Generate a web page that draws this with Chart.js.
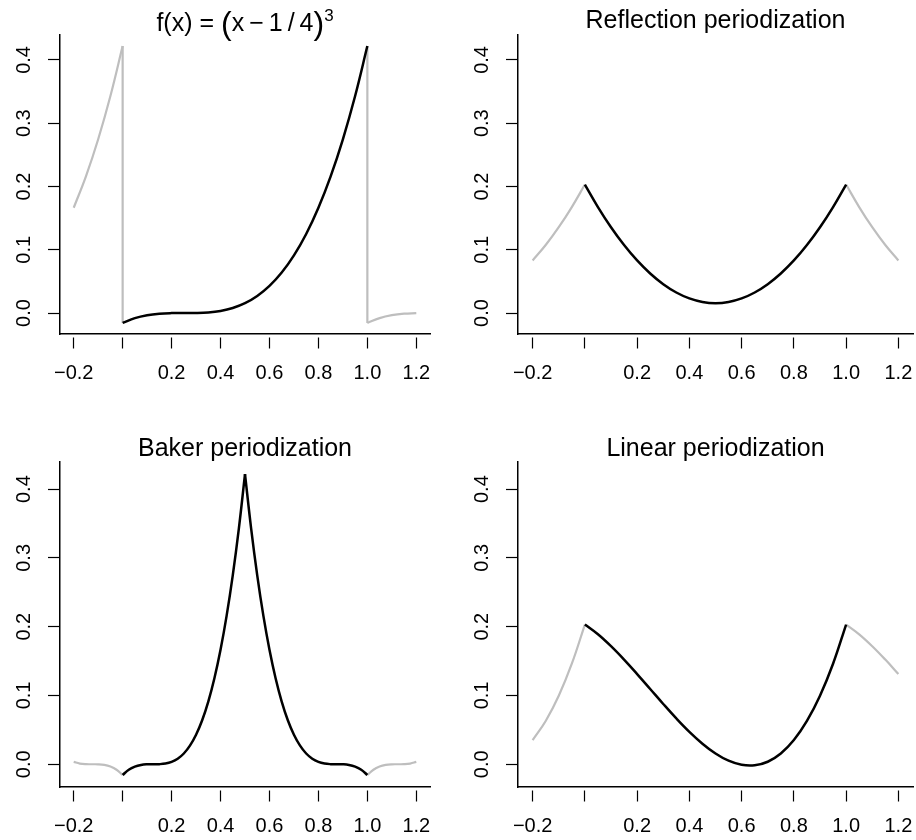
<!DOCTYPE html>
<html>
<head>
<meta charset="utf-8">
<title>Periodization of (x - 1/4)^3</title>
<script src="https://cdn.jsdelivr.net/npm/chart.js@4.4.1/dist/chart.umd.min.js"></script>
<style>
  html, body { margin: 0; padding: 0; background: #fff; }
  #wrap { position: relative; width: 916px; height: 840px; }
  .panel { position: absolute; }
</style>
</head>
<body>
<div id="wrap">
  <canvas class="panel" id="cube" width="458" height="420" style="left:0;top:0"></canvas>
  <canvas class="panel" id="reflect" width="458" height="420" style="left:458px;top:0"></canvas>
  <canvas class="panel" id="baker" width="458" height="420" style="left:0;top:420px"></canvas>
  <canvas class="panel" id="linear" width="458" height="420" style="left:458px;top:420px"></canvas>
</div>
<script>
// axis ticks (0 gets a tick mark but no label)
const xTicks = [-0.2, 0, 0.2, 0.4, 0.6, 0.8, 1.0, 1.2];
const xTickLabels = ['\u22120.2', '', '0.2', '0.4', '0.6', '0.8', '1.0', '1.2'];
const yTicks = [0, 0.1, 0.2, 0.3, 0.4];
const yTickLabels = ['0.0', '0.1', '0.2', '0.3', '0.4'];

// x grids
const xUnit = [0, 0.05, 0.1, 0.15, 0.2, 0.25, 0.3, 0.35, 0.4, 0.45, 0.5,
               0.55, 0.6, 0.65, 0.7, 0.75, 0.8, 0.85, 0.9, 0.95, 1];
const xLeft = [-0.2, -0.15, -0.1, -0.05, 0];
const xRight = [1, 1.05, 1.1, 1.15, 1.2];
const xJump0 = [0, 0];
const xJump1 = [1, 1];

// f(x) = (x - 1/4)^3 and its plain periodic copy
const cubeY = [-0.0156, -0.008, -0.0034, -0.001, -0.0001, 0, 0.0001, 0.001, 0.0034, 0.008, 0.0156,
               0.027, 0.0429, 0.064, 0.0911, 0.125, 0.1664, 0.216, 0.2746, 0.343, 0.4219];
const cubeLeftY = [0.1664, 0.216, 0.2746, 0.343, 0.4219];
const cubeRightY = [-0.0156, -0.008, -0.0034, -0.001, -0.0001];
const cubeJumpY = [0.4219, -0.0156];

// reflection periodization
const reflY = [0.2031, 0.1675, 0.1356, 0.1075, 0.0831, 0.0625, 0.0456, 0.0325, 0.0231, 0.0175, 0.0156,
               0.0175, 0.0231, 0.0325, 0.0456, 0.0625, 0.0831, 0.1075, 0.1356, 0.1675, 0.2031];
const reflLeftY = [0.0831, 0.1075, 0.1356, 0.1675, 0.2031];
const reflRightY = [0.2031, 0.1675, 0.1356, 0.1075, 0.0831];

// baker periodization, finer grid because of the peak at 0.5
const xBakerUp = [0, 0.025, 0.05, 0.075, 0.1, 0.125, 0.15, 0.175, 0.2, 0.225, 0.25,
                  0.275, 0.3, 0.325, 0.35, 0.375, 0.4, 0.425, 0.45, 0.475, 0.5];
const xBakerDown = [0.5, 0.525, 0.55, 0.575, 0.6, 0.625, 0.65, 0.675, 0.7, 0.725, 0.75,
                    0.775, 0.8, 0.825, 0.85, 0.875, 0.9, 0.925, 0.95, 0.975, 1];
const bakerUpY = [-0.0156, -0.008, -0.0034, -0.001, -0.0001, 0, 0.0001, 0.001, 0.0034, 0.008, 0.0156,
                  0.027, 0.0429, 0.064, 0.0911, 0.125, 0.1664, 0.216, 0.2746, 0.343, 0.4219];
const bakerDownY = [0.4219, 0.343, 0.2746, 0.216, 0.1664, 0.125, 0.0911, 0.064, 0.0429, 0.027, 0.0156,
                    0.008, 0.0034, 0.001, 0.0001, 0, -0.0001, -0.001, -0.0034, -0.008, -0.0156];
const xBakerLeft = [-0.2, -0.175, -0.15, -0.125, -0.1, -0.075, -0.05, -0.025, 0];
const xBakerRight = [1, 1.025, 1.05, 1.075, 1.1, 1.125, 1.15, 1.175, 1.2];
const bakerLeftY = [0.0034, 0.001, 0.0001, 0, -0.0001, -0.001, -0.0034, -0.008, -0.0156];
const bakerRightY = [-0.0156, -0.008, -0.0034, -0.001, -0.0001, 0, 0.0001, 0.001, 0.0034];

// linear periodization
const linY = [0.2031, 0.1889, 0.1716, 0.1521, 0.1311, 0.1094, 0.0876, 0.0666, 0.0471, 0.0299, 0.0156,
              0.0051, -0.0009, -0.0016, 0.0036, 0.0156, 0.0351, 0.0629, 0.0996, 0.1461, 0.2031];
const linLeftY = [0.0351, 0.0629, 0.0996, 0.1461, 0.2031];
const linRightY = [0.2031, 0.1889, 0.1716, 0.1521, 0.1311];

const FONT = "'Liberation Sans', Arial, Helvetica, sans-serif";
const BLACK = '#000000';
const GREY = '#bebebe';

function pts(xs, ys) {
    return xs.map((x, i) => ({ x: x, y: ys[i] }));
}

function curve(xs, ys, color, smooth) {
    return {
        data: pts(xs, ys),
        borderColor: color,
        borderWidth: color === BLACK ? 2.5 : 2.2,
        pointRadius: 0,
        fill: false,
        tension: smooth === false ? 0 : 0.4
    };
}

// title with big parentheses and a raised exponent, centred over the plot box
const cubeTitle = {
    id: 'cubeTitle',
    afterDraw(chart) {
        const ctx = chart.ctx;
        const area = chart.chartArea;
        const parts = [
            { text: 'f(x) = ', size: 25, dy: 0 },
            { text: '(', size: 32, dy: 3 },
            { text: 'x\u2009\u2212\u20091\u2009/\u20094', size: 25, dy: 0 },
            { text: ')', size: 32, dy: 3 },
            { text: '3', size: 17, dy: -10 }
        ];
        ctx.save();
        ctx.fillStyle = BLACK;
        ctx.textAlign = 'left';
        ctx.textBaseline = 'alphabetic';
        let total = 0;
        parts.forEach(p => {
            ctx.font = p.size + 'px ' + FONT;
            p.w = ctx.measureText(p.text).width;
            total += p.w;
        });
        let x = (area.left + area.right) / 2 - total / 2;
        const baseline = 31;
        parts.forEach(p => {
            ctx.font = p.size + 'px ' + FONT;
            ctx.fillText(p.text, x, baseline + p.dy);
            x += p.w;
        });
        ctx.restore();
    }
};

// geometry of the two rows / columns (plot box edges inside each canvas)
const topRow = { titleTop: 7, titleLine: 28, xAxisH: 86 };
const bottomRow = { titleTop: 16, titleLine: 26, xAxisH: 53 };
const leftCol = { padRight: 28 };
const rightCol = { padRight: 3 };

function makePanel(id, title, datasets, row, col, extra) {
    // datasets listed first are drawn on top
    const useTitle = typeof title === 'string';
    return new Chart(document.getElementById(id), {
        type: 'line',
        data: { datasets: datasets },
        plugins: extra ? [extra] : [],
        options: {
            responsive: false,
            animation: false,
            events: [],
            layout: {
                padding: {
                    left: 0,
                    right: col.padRight,
                    top: useTitle ? 0 : row.titleTop + row.titleLine,
                    bottom: 0
                }
            },
            plugins: {
                legend: { display: false },
                tooltip: { enabled: false },
                title: {
                    display: useTitle,
                    text: useTitle ? title : '',
                    fullSize: false,
                    color: BLACK,
                    font: { family: FONT, size: 25, weight: 'normal', lineHeight: row.titleLine + 'px' },
                    padding: { top: row.titleTop, bottom: 0 }
                }
            },
            scales: {
                x: {
                    type: 'linear',
                    min: -0.256,
                    max: 1.256,
                    afterBuildTicks: s => { s.ticks = xTicks.map(v => ({ value: v })); },
                    afterFit: s => { s.height = row.xAxisH; },
                    grid: {
                        drawOnChartArea: false,
                        drawTicks: true,
                        tickLength: 27,
                        tickColor: BLACK,
                        tickWidth: 1.2,
                        tickBorderDash: [0, 3, 11, 100]
                    },
                    border: { display: true, color: BLACK, width: 1.5 },
                    ticks: {
                        padding: 0,
                        color: BLACK,
                        autoSkip: false,
                        minRotation: 0,
                        maxRotation: 0,
                        font: { family: FONT, size: 20 },
                        callback: (v, i) => xTickLabels[i]
                    }
                },
                y: {
                    type: 'linear',
                    min: -0.0331,
                    max: 0.4394,
                    afterBuildTicks: s => { s.ticks = yTicks.map(v => ({ value: v })); },
                    afterFit: s => { s.width = 60; },
                    grid: {
                        drawOnChartArea: false,
                        drawTicks: true,
                        tickLength: 12,
                        tickColor: BLACK,
                        tickWidth: 1.2
                    },
                    border: { display: true, color: BLACK, width: 1.5 },
                    ticks: {
                        padding: 10,
                        crossAlign: 'center',
                        minRotation: 90,
                        maxRotation: 90,
                        color: BLACK,
                        font: { family: FONT, size: 20 },
                        callback: (v, i) => yTickLabels[i]
                    }
                }
            }
        }
    });
}

makePanel('cube', null, [
    curve(xUnit, cubeY, BLACK),
    curve(xLeft, cubeLeftY, GREY),
    curve(xJump0, cubeJumpY, GREY, false),
    curve(xJump1, cubeJumpY, GREY, false),
    curve(xRight, cubeRightY, GREY)
], topRow, leftCol, cubeTitle);

makePanel('reflect', 'Reflection periodization', [
    curve(xUnit, reflY, BLACK),
    curve(xLeft, reflLeftY, GREY),
    curve(xRight, reflRightY, GREY)
], topRow, rightCol);

makePanel('baker', 'Baker periodization', [
    curve(xBakerUp, bakerUpY, BLACK),
    curve(xBakerDown, bakerDownY, BLACK),
    curve(xBakerLeft, bakerLeftY, GREY),
    curve(xBakerRight, bakerRightY, GREY)
], bottomRow, leftCol);

makePanel('linear', 'Linear periodization', [
    curve(xUnit, linY, BLACK),
    curve(xLeft, linLeftY, GREY),
    curve(xRight, linRightY, GREY)
], bottomRow, rightCol);
</script>
</body>
</html>
